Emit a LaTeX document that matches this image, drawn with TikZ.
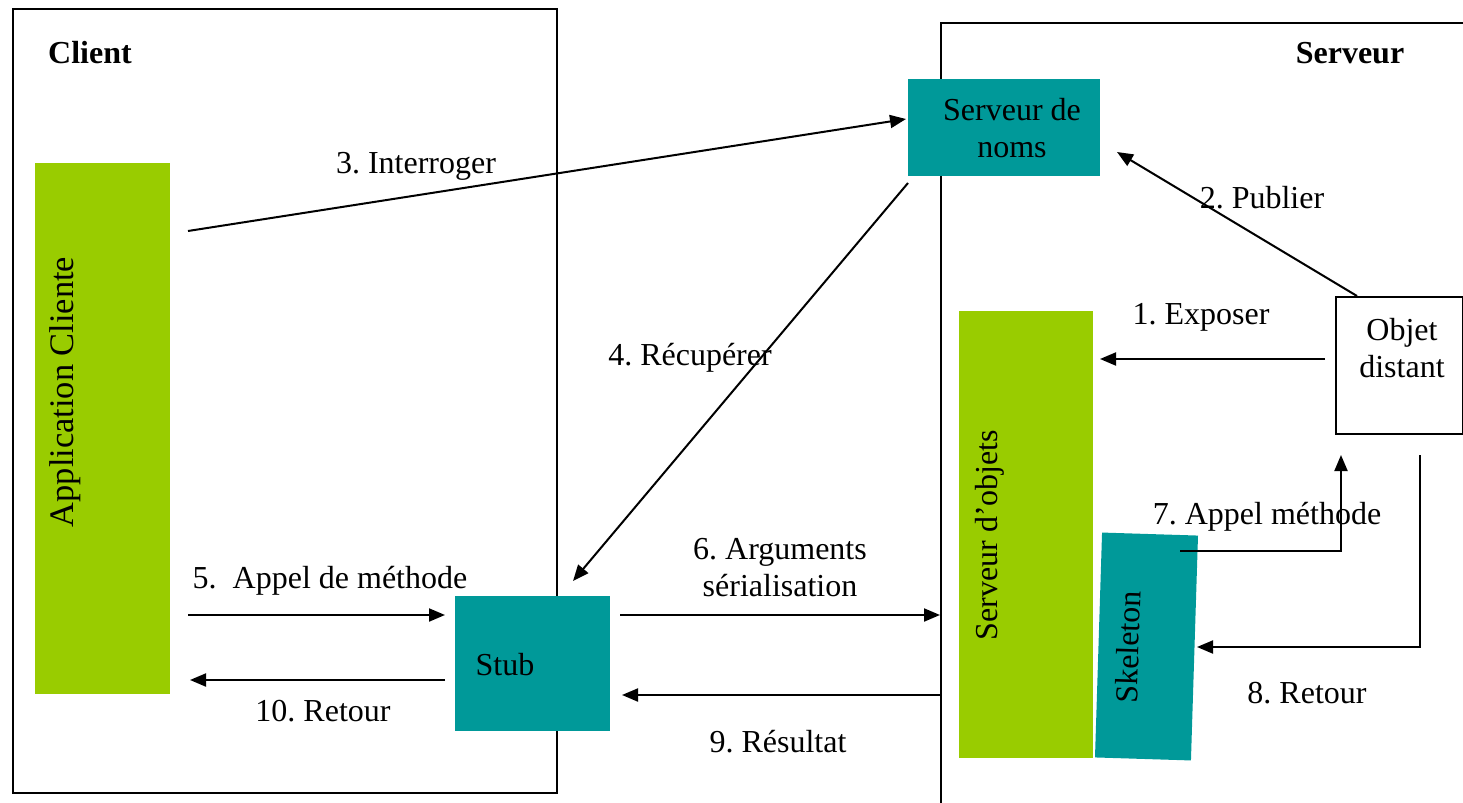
\documentclass[tikz,border=0pt]{standalone}
\usepackage{fontspec}
\setmainfont{Liberation Serif}
\usetikzlibrary{arrows.meta}
\definecolor{lgreen}{HTML}{99CC00}
\definecolor{tealc}{HTML}{009999}
\frenchspacing
\begin{document}
\begin{tikzpicture}[x=0.5pt,y=-0.5pt,
  font=\fontsize{16}{18.5}\selectfont,
  frame/.style={draw, line width=1pt, inner sep=0pt, anchor=north west},
  tealbox/.style={fill=tealc, inner sep=0pt, anchor=north west},
  greenbox/.style={fill=lgreen, inner sep=0pt, anchor=north west},
  lbl/.style={inner sep=0pt, align=center},
  ln/.style={line width=1pt},
  arr/.style={line width=1pt, -{Triangle[length=8pt,width=6.5pt]}}]
\useasboundingbox (0,0) rectangle (1463,803);
\clip (0,0) rectangle (1463,803);
% frames
\node[frame, minimum width=272pt, minimum height=392pt] (client) at (12,8) {};
\node[frame, minimum width=300pt, minimum height=400pt] (server) at (940,22) {};
\node[lbl, font=\fontsize{16}{18.5}\selectfont\bfseries] (clientlbl) at (90,53) {Client};
\node[lbl, font=\fontsize{16}{18.5}\selectfont\bfseries] (serverlbl) at (1350,53) {Serveur};
% boxes
\node[greenbox, minimum width=67.5pt, minimum height=265.5pt] (app) at (35,163) {};
\node[lbl, rotate=90, font=\fontsize{17.2}{20}\selectfont] (applbl) at (65,392) {Application Cliente};
\node[tealbox, minimum width=96pt, minimum height=48.5pt] (noms) at (908,79) {};
\node[lbl] (nomslbl) at (1012,128) {Serveur de\\noms};
\node[frame, fill=white, minimum width=63.5pt, minimum height=68.5pt] (objet) at (1335,296) {};
\node[lbl] (objetlbl) at (1402,348) {Objet\\distant};
\node[greenbox, minimum width=67pt, minimum height=223.5pt] (sobj) at (959,311) {};
\node[lbl, rotate=90] (sobjlbl) at (990,535) {Serveur d’objets};
\node[fill=tealc, inner sep=0pt, minimum width=48pt, minimum height=112.5pt, rotate=-1.8] (skel) at (1146.5,646.5) {};
\node[lbl, rotate=88.2] (skellbl) at (1128,647) {Skeleton};
\node[tealbox, minimum width=77.5pt, minimum height=67.5pt] (stub) at (455,596) {};
\node[lbl] (stublbl) at (505,665) {Stub};
% connector end points
\coordinate (a3s) at (188,231);
\coordinate (a3e) at (906,119);
\coordinate (a2s) at (1357,296);
\coordinate (a2e) at (1117,152);
\coordinate (a4s) at (908,183);
\coordinate (a4e) at (573,581);
\coordinate (a1s) at (1325,359);
\coordinate (a1e) at (1100,359);
\coordinate (a7s) at (1180,551);
\coordinate (a7m) at (1341,551);
\coordinate (a7e) at (1341,455);
\coordinate (a8s) at (1420,455);
\coordinate (a8m) at (1420,647);
\coordinate (a8e) at (1197,647);
\coordinate (a5s) at (188,615);
\coordinate (a5e) at (445,615);
\coordinate (a10s) at (445,680);
\coordinate (a10e) at (190,680);
\coordinate (a6s) at (620,615);
\coordinate (a6e) at (940,615);
\coordinate (a9s) at (940,695);
\coordinate (a9e) at (622,695);
% connectors
\draw[arr] (a3s) -- (a3e);
\draw[arr] (a2s) -- (a2e);
\draw[arr] (a4s) -- (a4e);
\draw[arr] (a1s) -- (a1e);
\draw[arr] (a7s) -- (a7m) -- (a7e);
\draw[arr] (a8s) -- (a8m) -- (a8e);
\draw[arr] (a5s) -- (a5e);
\draw[arr] (a10s) -- (a10e);
\draw[arr] (a6s) -- (a6e);
\draw[arr] (a9s) -- (a9e);
% labels
\node[lbl] (l3) at (416,166) {3. Interroger};
\node[lbl] (l2) at (1262,198) {2. Publier};
\node[lbl] (l4) at (690,358) {4. Récupérer};
\node[lbl] (l1) at (1201,317) {1. Exposer};
\node[lbl] (l7) at (1267,517) {7. Appel méthode};
\node[lbl] (l8) at (1307,693) {8. Retour};
\node[lbl] (l5) at (330,581) {5.\ \ Appel de méthode};
\node[lbl] (l10) at (323,711) {10. Retour};
\node[lbl] (l6) at (780,568) {6. Arguments\\sérialisation};
\node[lbl] (l9) at (778,742) {9. Résultat};
\end{tikzpicture}
\end{document}
